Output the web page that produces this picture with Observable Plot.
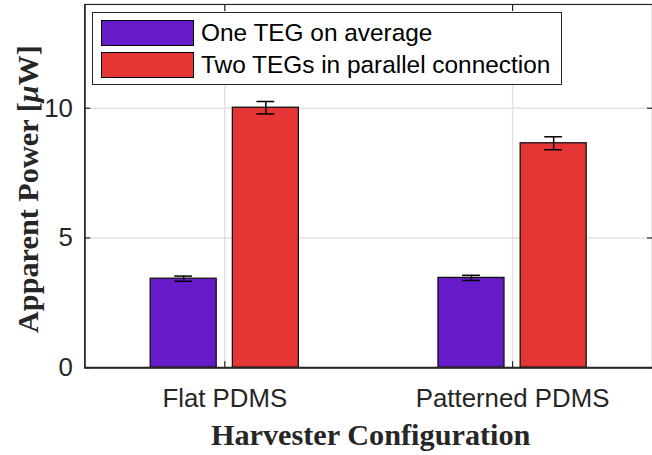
<!DOCTYPE html>
<html><head><meta charset="utf-8">
<script src="https://cdn.jsdelivr.net/npm/d3@7"></script>
<script src="https://cdn.jsdelivr.net/npm/@observablehq/plot@0.6"></script>
<style>
body{margin:0;background:#fff;}
#wrap{position:relative;width:652px;height:455px;overflow:hidden;}
#legend{position:absolute;left:92px;top:12px;width:470px;height:73px;border:1.3px solid #262626;background:#fff;box-sizing:border-box;font-family:"Liberation Sans",Arial,sans-serif;font-size:24.4px;color:#000;}
.row{position:absolute;left:8px;height:26px;display:flex;align-items:center;white-space:nowrap;}
.sw{width:93px;height:26px;border:1.3px solid #000;box-sizing:border-box;margin-right:7px;}
</style></head><body>
<div id="wrap"><div id="legend"></div></div>
<script>
const categories = ["Flat PDMS", "Patterned PDMS"];
const series = ["One TEG on average", "Two TEGs in parallel connection"];
const oneTEG = [3.43, 3.46];
const oneTEGErr = [0.10, 0.10];
const twoTEG = [10.02, 8.65];
const twoTEGErr = [0.24, 0.25];
const seriesColors = ["#661bc9", "#e53535"];
const yTicks = [0, 5, 10];
const xLabel = "Harvester Configuration";
const yLabel = "Apparent Power [μW]";

const offset = 0.1428, halfW = 0.1147, capHalf = 0.031;
const rows = [];
categories.forEach((c, i) => {
  rows.push({cat: c, series: series[0], value: oneTEG[i], err: oneTEGErr[i], xc: i + 1 - offset});
  rows.push({cat: c, series: series[1], value: twoTEG[i], err: twoTEGErr[i], xc: i + 1 + offset});
});

const ink = "#262626";
const plot = Plot.plot({
  width: 657, height: 455,
  marginLeft: 85, marginRight: 0, marginTop: 4, marginBottom: 85,
  style: {fontFamily: "'Liberation Sans', Arial, sans-serif", fontSize: "26px", color: ink, background: "#fff"},
  x: {domain: [0.5138, 2.4862], axis: null},
  y: {domain: [0, 14], axis: null},
  color: {domain: series, range: seriesColors},
  marks: [
    Plot.gridY({ticks: [5, 10], stroke: "#e2e2e2", strokeOpacity: 1, strokeWidth: 1.5}),
    Plot.gridX({ticks: [1, 2], stroke: "#e2e2e2", strokeOpacity: 1, strokeWidth: 1.5}),
    Plot.rectY(rows, {x1: d => d.xc - halfW, x2: d => d.xc + halfW, y1: 0, y2: "value", fill: "series", stroke: "#111", strokeWidth: 1.3}),
    Plot.ruleX(rows, {x: "xc", y1: d => d.value - d.err, y2: d => d.value + d.err, stroke: "#000", strokeWidth: 1.5}),
    Plot.ruleY(rows, {y: d => d.value + d.err, x1: d => d.xc - capHalf, x2: d => d.xc + capHalf, stroke: "#000", strokeWidth: 1.5}),
    Plot.ruleY(rows, {y: d => d.value - d.err, x1: d => d.xc - capHalf, x2: d => d.xc + capHalf, stroke: "#000", strokeWidth: 1.5}),
    Plot.frame({stroke: ink, strokeWidth: 1.2}),
    Plot.ruleY([0], {stroke: ink, strokeWidth: 2}),
    Plot.ruleX([0.5138], {stroke: ink, strokeWidth: 1.5}),
    Plot.axisY({ticks: yTicks, tickSize: -6, tickPadding: 18, tickFormat: d3.format("d"), label: null, stroke: ink, strokeWidth: 1.2}),
    Plot.axisY({anchor: "right", ticks: yTicks, tickSize: -6, tickFormat: () => "", label: null, stroke: ink, strokeWidth: 1.2}),
    Plot.axisX({ticks: [1, 2], tickSize: -6, tickPadding: 27, tickFormat: d => categories[d - 1], label: null, stroke: ink, strokeWidth: 1.2}),
    Plot.axisX({anchor: "top", ticks: [1, 2], tickSize: -6, tickFormat: () => "", label: null, stroke: ink, strokeWidth: 1.2}),
    Plot.text([xLabel], {text: d => d, frameAnchor: "bottom", lineAnchor: "bottom", textAnchor: "middle", dy: 78, dx: 2, fontFamily: "'Liberation Serif', 'Times New Roman', serif", fontWeight: "bold", fontSize: 30.5, fill: ink}),
    Plot.text([yLabel], {text: d => d, frameAnchor: "left", rotate: -90, lineAnchor: "bottom", textAnchor: "middle", dx: -47, dy: 3, fontFamily: "'Liberation Serif', 'Times New Roman', serif", fontWeight: "bold", fontSize: 30.5, fill: ink})
  ]
});

plot.querySelectorAll("text").forEach(t => {
  if (t.textContent.includes("μ")) {
    const [a, b] = t.textContent.split("μ");
    t.textContent = "";
    const ns = "http://www.w3.org/2000/svg";
    [[a, false], ["μ", true], [b, false]].forEach(([s, it]) => {
      const ts = document.createElementNS(ns, "tspan");
      ts.textContent = s;
      if (it) ts.setAttribute("font-style", "italic");
      t.appendChild(ts);
    });
  }
});

const wrap = document.getElementById("wrap");
wrap.insertBefore(plot, wrap.firstChild);

const legend = document.getElementById("legend");
series.forEach((s, i) => {
  const row = document.createElement("div");
  row.className = "row";
  row.style.top = (i === 0 ? 6.5 : 39) + "px";
  const sw = document.createElement("div");
  sw.className = "sw";
  sw.style.background = seriesColors[i];
  const tx = document.createElement("span");
  tx.textContent = s;
  row.appendChild(sw); row.appendChild(tx);
  legend.appendChild(row);
});
</script>
</body></html>
